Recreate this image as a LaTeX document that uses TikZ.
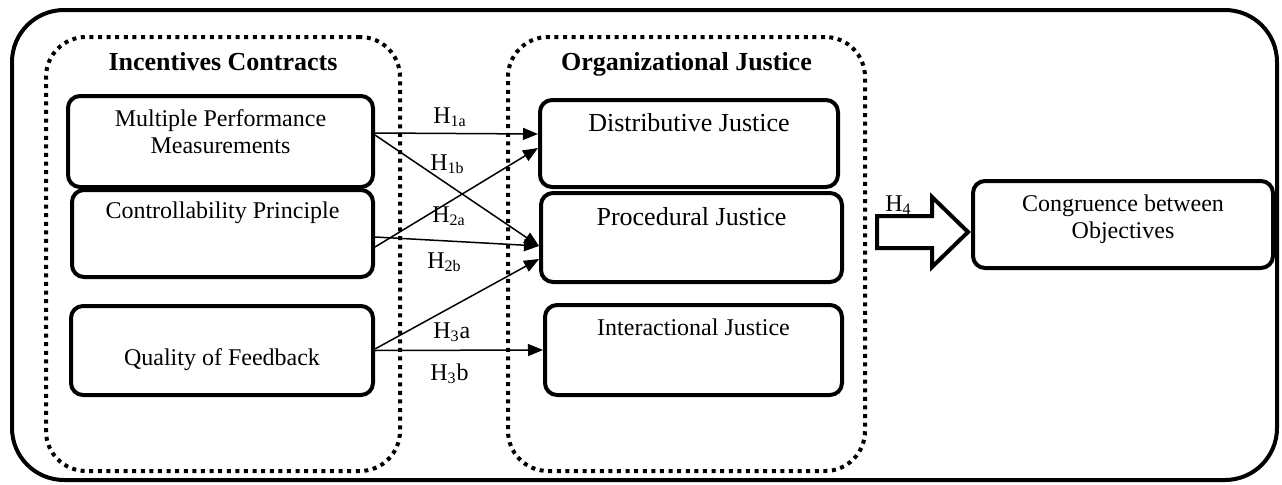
\documentclass[tikz,border=0pt]{standalone}
\usepackage{fontspec}
\setmainfont{Liberation Serif}
\usetikzlibrary{positioning, calc, arrows.meta}

\tikzset{
  group-frame/.style={draw, line width=2pt, dash pattern=on 2pt off 2.3pt,
    rounded corners=20pt, minimum height=217pt},
  var-box/.style={draw, line width=2pt, rounded corners=6pt},
  box-text/.style={font=\fontsize{12}{13.5}\selectfont, align=center,
    inner sep=0pt, anchor=base},
  hyp-label/.style={font=\fontsize{12}{13.5}\selectfont, inner sep=0pt,
    anchor=base west}
}

\begin{document}
\begin{tikzpicture}[x=0.5pt, y=0.5pt,
    hyp-arrow/.style={-{Triangle[length=7.5pt, width=6pt]}, line width=0.75pt}]
    \useasboundingbox (0,0) rectangle (1282,484);
    \draw[line width=2pt, rounded corners=26pt] (12,4) rectangle (1277,474);

    % the two groups
    \node[group-frame, minimum width=177pt] (incentives) at (223,230) {};
    \node[group-frame, minimum width=178.5pt] (justice) at (686.5,230) {};
    \node[box-text, font=\fontsize{13}{15}\selectfont\bfseries]
      (incentives-t) at ([yshift=-17.5pt]incentives.north) {Incentives Contracts};
    \node[box-text, font=\fontsize{13}{15}\selectfont\bfseries]
      (justice-t) at ([yshift=-17.5pt]justice.north) {Organizational Justice};

    % incentive variables
    \node[var-box, minimum width=152.5pt, minimum height=45.5pt]
      (multi-perf) at (220.5,342.5) {};
    \node[var-box, minimum width=150.5pt, minimum height=43.5pt]
      (control-princ) at (222.5,250.5) {};
    \node[var-box, minimum width=151pt, minimum height=44.5pt]
      (quality-fb) at (222,133.5) {};
    \node[box-text] (multi-perf-t) at ([yshift=-29.5pt]multi-perf.north)
      {Multiple Performance\\Measurements};
    \node[box-text] (control-princ-t) at ([yshift=-15pt]control-princ.north)
      {Controllability Principle};
    \node[box-text] (quality-fb-t) at ([yshift=-7.25pt]quality-fb.center)
      {Quality of Feedback};

    % justice variables
    \node[var-box, minimum width=149pt, minimum height=43.5pt]
      (distr-just) at (689,340.5) {};
    \node[var-box, minimum width=150.5pt, minimum height=44.5pt]
      (proc-just) at (691.5,246.5) {};
    \node[var-box, minimum width=148.5pt, minimum height=45pt]
      (inter-just) at (693.5,134) {};
    \node[box-text, font=\fontsize{13}{15}\selectfont]
      (distr-just-t) at ([yshift=-16.5pt]distr-just.north) {Distributive Justice};
    \node[box-text, font=\fontsize{13}{15}\selectfont]
      (proc-just-t) at ([yshift=-17pt]proc-just.north) {Procedural Justice};
    \node[box-text] (inter-just-t) at ([yshift=-16pt]inter-just.north)
      {Interactional Justice};

    % outcome
    \node[var-box, minimum width=150pt, minimum height=43.5pt]
      (congruence) at (1123,259.5) {};
    \node[box-text] (congruence-t) at ([yshift=-29.5pt]congruence.north)
      {Congruence between\\Objectives};

    % hypotheses
    \draw[hyp-arrow] ([yshift=4.25pt]multi-perf.east) -- ([yshift=4.75pt]distr-just.west);
    \draw[hyp-arrow] ([yshift=3.25pt]multi-perf.east) -- ([yshift=-4.25pt]proc-just.west);
    \draw[hyp-arrow] ([yshift=-6.75pt]control-princ.east) -- ([yshift=-2.25pt]distr-just.west);
    \draw[hyp-arrow] ([yshift=-1.75pt]control-princ.east) -- ([yshift=-4.25pt]proc-just.west);
    \draw[hyp-arrow] ([yshift=0.75pt]quality-fb.east) -- ([yshift=-10.75pt]proc-just.west);
    \draw[hyp-arrow] (quality-fb.east) -- (inter-just.west);

    \node[hyp-label] (h1a) at (433,361) {H\textsubscript{1a}};
    \node[hyp-label] (h1b) at (430,314) {H\textsubscript{1b}};
    \node[hyp-label] (h2a) at (432,262) {H\textsubscript{2a}};
    \node[hyp-label] (h2b) at (427,216) {H\textsubscript{2b}};
    \node[hyp-label] (h3a) at (433,146) {H\textsubscript{3}a};
    \node[hyp-label] (h3b) at (430,104) {H\textsubscript{3}b};

    % block arrow to the outcome
    \coordinate (h4-tip) at ([xshift=-1.5pt, yshift=-3.75pt]congruence.west);
    \draw[line width=2pt, line join=miter] (h4-tip) -- ++(-36,35) -- ++(0,-19)
      -- ++(-55,0) -- ++(0,-32) -- ++(55,0) -- ++(0,-19) -- cycle;
    \node[hyp-label] (h4) at (885,273) {H\textsubscript{4}};
\end{tikzpicture}
\end{document}
